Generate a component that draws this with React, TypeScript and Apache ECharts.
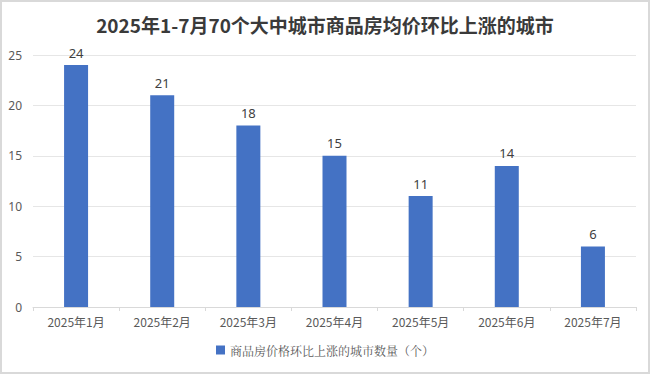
import React, { useEffect, useRef } from "react";
import * as echarts from "echarts";

const categories = ["2025年1月", "2025年2月", "2025年3月", "2025年4月", "2025年5月", "2025年6月", "2025年7月"];
const values = [24, 21, 18, 15, 11, 14, 6];
const seriesName = "商品房价格环比上涨的城市数量（个）";
const titleText = "2025年1-7月70个大中城市商品房均价环比上涨的城市";

export default function App() {
  const ref = useRef<HTMLDivElement>(null);
  useEffect(() => {
    if (!ref.current) return;
    const chart = echarts.init(ref.current, undefined, { renderer: "svg" });
    chart.setOption({
      animation: false,
      backgroundColor: "#ffffff",
      title: {
        text: titleText,
        left: "center",
        top: 8,
        textStyle: { fontFamily: "Noto Sans CJK SC", fontWeight: "bold", fontSize: 19, color: "#3a3a3a" },
      },
      grid: { left: 31, right: 12, top: 53, bottom: 65 },
      legend: {
        bottom: 11,
        left: "center",
        itemWidth: 9,
        itemHeight: 9,
        icon: "rect",
        textStyle: { fontFamily: "Noto Serif CJK SC, Noto Sans CJK SC", fontSize: 12, color: "#595959" },
        data: [seriesName],
      },
      xAxis: {
        type: "category",
        data: categories,
        axisLine: { lineStyle: { color: "#d9d9d9" } },
        axisTick: { show: true, length: 4, lineStyle: { color: "#d9d9d9" } },
        axisLabel: { color: "#595959", fontSize: 12, fontFamily: "Noto Sans CJK SC", margin: 8 },
      },
      yAxis: {
        type: "value",
        min: 0,
        max: 25,
        interval: 5,
        axisLine: { show: false },
        axisTick: { show: false },
        splitLine: { lineStyle: { color: "#e6e6e6" } },
        axisLabel: { color: "#595959", fontSize: 12, fontFamily: "Noto Sans", margin: 11 },
      },
      series: [
        {
          name: seriesName,
          type: "bar",
          data: values,
          barWidth: 24,
          itemStyle: { color: "#4472C4" },
          label: { show: true, position: "top", color: "#404040", fontSize: 13, fontFamily: "Noto Sans", distance: 6 },
        },
      ],
    });
    return () => chart.dispose();
  }, []);
  return (
    <div
      style={{
        position: "absolute",
        left: 0,
        top: 0,
        width: 650,
        height: 374,
        boxSizing: "border-box",
        border: "2px solid #d9d9d9",
        background: "#fff",
      }}
    >
      <div ref={ref} style={{ width: 646, height: 370 }} />
    </div>
  );
}
